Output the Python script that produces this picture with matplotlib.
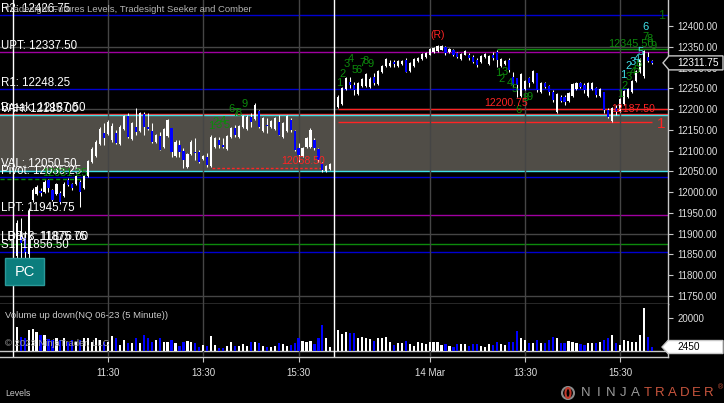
import numpy as np
import matplotlib
matplotlib.use("Agg")
import matplotlib.pyplot as plt
from matplotlib.patches import Polygon, Rectangle, Ellipse

plt.rcParams['font.family'] = ['Liberation Sans', 'DejaVu Sans']

# ---- 5 minute bars, day 1 (13 Mar) ----
o1 = [11845, 11892, 11889, 11850, 11980, 11995, 12003, 12000, 12029, 12005,
      11995, 11998, 11990, 12029, 12020, 12019, 12024, 12010, 12038, 12072,
      12088, 12116, 12143, 12140, 12125, 12142,
      12116, 12152, 12183, 12128, 12157, 12147, 12188, 12157, 12147, 12120,
      12135, 12108, 12135, 12154, 12087, 12114, 12099, 12060, 12092, 12097,
      12097, 12079, 12085, 12063, 12108, 12126, 12114, 12104,
      12132, 12155, 12132, 12157, 12152, 12181, 12176, 12196, 12147, 12163,
      12157, 12152, 12169, 12133, 12147, 12174, 12148, 12106, 12087, 12108,
      12110, 12126, 12104, 12070, 12050, 12055]
h1 = [11933, 11937, 11905, 11962, 12010, 12017, 12010, 12029, 12032, 12008,
      12022, 12002, 12024, 12034, 12022, 12041, 12030, 12041, 12077, 12109,
      12126, 12157, 12166, 12174, 12166, 12150,
      12162, 12186, 12191, 12169, 12203, 12193, 12193, 12191, 12166, 12140,
      12145, 12155, 12176, 12155, 12126, 12126, 12106, 12094, 12126, 12130,
      12101, 12090, 12094, 12138, 12133, 12133, 12130, 12138,
      12157, 12162, 12162, 12186, 12186, 12191, 12215, 12198, 12181, 12179,
      12174, 12181, 12186, 12169, 12186, 12179, 12150, 12118, 12109, 12133,
      12154, 12130, 12106, 12072, 12065, 12070]
l1 = [11830, 11828, 11830, 11835, 11976, 11993, 11990, 11998, 12000, 11978,
      11993, 11972, 11988, 12014, 12005, 12017, 11964, 12008, 12036, 12070,
      12085, 12114, 12114, 12138, 12121, 12116,
      12114, 12150, 12130, 12126, 12138, 12145, 12138, 12150, 12118, 12118,
      12101, 12106, 12133, 12085, 12085, 12085, 12058, 12058, 12090, 12077,
      12070, 12077, 12060, 12060, 12106, 12106, 12106, 12102,
      12130, 12133, 12130, 12155, 12150, 12157, 12174, 12154, 12145, 12142,
      12155, 12150, 12138, 12130, 12145, 12145, 12099, 12072, 12085, 12106,
      12106, 12101, 12072, 12048, 12048, 12053]
c1 = [11925, 11877, 11856, 11955, 12005, 12012, 11998, 12025, 12010, 11981,
      12019, 11976, 12020, 12017, 12010, 12038, 12000, 12038, 12074, 12105,
      12122, 12152, 12130, 12170, 12160, 12118,
      12158, 12183, 12133, 12166, 12145, 12190, 12157, 12152, 12121, 12138,
      12102, 12152, 12173, 12097, 12122, 12097, 12077, 12091, 12122, 12094,
      12073, 12088, 12065, 12134, 12130, 12114, 12110, 12135,
      12154, 12138, 12159, 12183, 12182, 12169, 12210, 12157, 12178, 12160,
      12171, 12178, 12138, 12166, 12183, 12150, 12102, 12089, 12106, 12130,
      12150, 12106, 12077, 12053, 12063, 12068]

# ---- day 2 (14 Mar) ----
o2 = [12205, 12212, 12248, 12266, 12258, 12236, 12255, 12255, 12253, 12277,
      12260, 12289, 12304, 12304, 12313, 12304, 12308, 12318, 12292, 12304,
      12316, 12320, 12325, 12332, 12337, 12340, 12344,
      12350, 12337, 12343, 12335, 12320, 12332, 12331, 12326, 12318, 12313,
      12325, 12309, 12331, 12338, 12304, 12308, 12318, 12278, 12275, 12232,
      12248, 12275, 12265, 12287, 12241, 12263, 12256,
      12241, 12193, 12229, 12229, 12219, 12231, 12248, 12263, 12258, 12231,
      12248, 12251, 12231, 12241, 12198, 12172, 12203, 12195, 12212, 12229,
      12241, 12267, 12289, 12280, 12326, 12316]
h2 = [12234, 12253, 12277, 12277, 12266, 12266, 12275, 12287, 12277, 12287,
      12294, 12306, 12323, 12318, 12318, 12318, 12318, 12323, 12314, 12323,
      12326, 12335, 12338, 12348, 12350, 12355, 12355,
      12352, 12348, 12345, 12338, 12335, 12343, 12335, 12331, 12323, 12331,
      12335, 12331, 12338, 12343, 12323, 12318, 12323, 12290, 12275, 12287,
      12270, 12278, 12294, 12287, 12266, 12266, 12258,
      12246, 12239, 12234, 12234, 12241, 12263, 12266, 12266, 12263, 12266,
      12266, 12253, 12251, 12241, 12203, 12205, 12210, 12227, 12246, 12251,
      12270, 12294, 12323, 12343, 12338, 12318]
l2 = [12202, 12210, 12246, 12251, 12234, 12234, 12253, 12253, 12251, 12258,
      12258, 12287, 12302, 12302, 12302, 12302, 12306, 12290, 12290, 12302,
      12314, 12318, 12323, 12330, 12335, 12338, 12342,
      12330, 12335, 12328, 12323, 12318, 12330, 12318, 12311, 12302, 12311,
      12323, 12306, 12318, 12302, 12302, 12306, 12290, 12253, 12229, 12229,
      12246, 12253, 12263, 12241, 12239, 12251, 12234,
      12217, 12190, 12217, 12210, 12217, 12229, 12246, 12251, 12239, 12229,
      12246, 12229, 12229, 12190, 12178, 12169, 12186, 12193, 12210, 12227,
      12239, 12265, 12287, 12275, 12314, 12310]
c2 = [12230, 12250, 12275, 12258, 12246, 12263, 12272, 12284, 12274, 12263,
      12291, 12304, 12320, 12312, 12309, 12316, 12316, 12290, 12311, 12320,
      12324, 12333, 12336, 12345, 12348, 12352, 12352,
      12335, 12345, 12331, 12326, 12333, 12340, 12324, 12314, 12306, 12328,
      12333, 12328, 12324, 12318, 12320, 12316, 12295, 12258, 12258, 12284,
      12268, 12263, 12292, 12246, 12263, 12254, 12241,
      12222, 12236, 12220, 12217, 12239, 12260, 12263, 12254, 12246, 12263,
      12263, 12234, 12248, 12198, 12181, 12202, 12193, 12224, 12244, 12249,
      12268, 12292, 12320, 12340, 12316, 12311.75]

vol1 = [14700, 8700, 7900, 12700, 13300, 11300, 9700, 9700, 7300, 6700,
        7700, 6700, 7700, 5600, 6700, 5600, 6700, 7700, 7700, 5600,
        7700, 6700, 5600, 5600, 9100, 8100, 3600, 6700, 4600, 4600,
        8100, 4600, 9700, 8100, 5600, 6700, 7700, 5600, 5600, 6700,
        4600, 3200, 5600, 6000, 5600, 4600, 2600, 3600, 3200, 9400,
        3600, 1600, 1600, 3200, 5600, 3200, 3200, 4000, 3200, 5200,
        5200, 4600, 3200, 2600, 2600, 3200, 5000, 4000, 3200, 3600,
        4600, 8100, 6000, 5600, 6000, 4200, 8100, 15800, 7700, 2600]
vol2 = [12700, 10100, 11300, 10700, 10700, 7700,
        8700, 7700, 7300, 6300, 8100, 7700, 8700, 5600, 3600, 4600,
        4600, 6300, 4000, 3200, 5600, 4600, 4000, 5600, 5600, 5600,
        3600, 4000, 3200, 2600, 4000, 4200, 4200, 3200, 4000, 4200,
        3200, 2600, 4200, 3600, 5600, 4000, 3600, 5200, 5600, 12100,
        8100, 6700, 5000, 4600, 6700, 5000, 5000, 6700, 8700, 8100,
        4600, 5000, 6000, 5600, 4600, 4000, 3600, 4600, 4600, 4600,
        5600, 6700, 8100, 9700, 4600, 3600, 6700, 6000, 5600, 5600,
        9700, 26200, 8700, 2450]

day1_bars = np.arange(0, 80)
day2_bars = np.arange(81, 161)
session_breaks = [-1, 80]
# bar index of each time label (11:30 / 13:30 / 15:30 on both days)
time_ticks = [23, 47, 71, 104, 128, 152]
time_labels = ["11:30", "13:30", "15:30", "14 Mar", "13:30", "15:30"]
price_ticks = [11750, 11800, 11850, 11900, 11950, 12000, 12050, 12100,
               12150, 12200, 12250, 12300, 12350, 12400]
grid_prices = [11750, 11900, 12200, 12350]

BLUE = '#0000d2'
PURPLE = '#a000a0'
RED = '#ff2424'
CYAN = '#40e0e8'
GREEN = '#0c8a0c'
# name, value, colour
levels = [("R2: 12426.75", 12426.75, BLUE),
          ("UPT: 12337.50", 12337.50, PURPLE),
          ("R1: 12248.25", 12248.25, BLUE),
          ("Break: 12187.50", 12187.50, RED),
          ("VAH: 12185.00", 12185.00, CYAN),
          ("VAL: 12050.50", 12050.50, CYAN),
          ("Pivot: 12035.25", 12035.25, BLUE),
          ("LPT: 11945.75", 11945.75, PURPLE),
          ("LDBrk: 11875.75", 11875.75, GREEN),
          ("S1: 11856.50", 11856.50, BLUE)]
value_area = (12050.50, 12185.00)

# TD style counts: label, bar, price, colour
counts = [("1", 49, 12159, GREEN), ("2", 50, 12169, GREEN), ("3", 51, 12162, GREEN),
          ("4", 52, 12171, GREEN), ("5", 53, 12162, GREEN), ("6", 54.2, 12200, GREEN),
          ("7", 55.2, 12191, GREEN), ("8", 56, 12191, GREEN), ("9", 57.3, 12212, GREEN),
          ("1", 81.2, 12263, GREEN), ("2", 82.2, 12285, GREEN), ("3", 83.2, 12309, GREEN),
          ("4", 84.2, 12321, GREEN), ("5", 85, 12295, GREEN), ("6", 86, 12295, GREEN),
          ("7", 87, 12311, GREEN), ("8", 88, 12316, GREEN), ("9", 89.2, 12309, GREEN),
          ("1", 121.2, 12287, GREEN), ("2", 122.2, 12273, GREEN), ("3", 123, 12290, GREEN),
          ("4", 124.3, 12263, GREEN), ("5", 125.3, 12249, GREEN), ("6", 126.3, 12198, GREEN),
          ("8", 128.3, 12227, GREEN), ("9", 129.3, 12229, GREEN),
          ("1", 152, 12237, GREEN), ("2", 153.2, 12256, GREEN), ("3", 154.2, 12278, GREEN),
          ("4", 155.2, 12290, GREEN), ("5", 156.2, 12295, GREEN), ("6", 156.6, 12309, GREEN),
          ("7", 158.3, 12374, GREEN), ("8", 159.3, 12369, GREEN), ("9", 160.3, 12352, GREEN),
          ("1", 152.7, 12282, CYAN), ("2", 154, 12304, CYAN), ("3", 155.2, 12314, CYAN),
          ("4", 156.2, 12321, CYAN), ("5", 157.2, 12338, CYAN), ("6", 158.3, 12398, CYAN)]

W, H = 724, 403
fig = plt.figure(figsize=(W / 100, H / 100), dpi=100, facecolor='black')
ax = fig.add_axes([0, 99 / H, 668 / W, 304 / H], facecolor='black')
axv = fig.add_axes([0, 46 / H, 668 / W, 53 / H], facecolor='black', sharex=ax)

xmin, xmax = -4.21, 164.05
ax.set_xlim(xmin, xmax)
ax.set_ylim(11730, 12463.5)
axv.set_ylim(-3600, 28500)

AXC = '#c8c8c8'
TXC = '#e0e0e0'
for a in (ax, axv):
    for s in ('top', 'left'):
        a.spines[s].set_visible(False)
    for s in ('right', 'bottom'):
        a.spines[s].set_color(AXC)
        a.spines[s].set_linewidth(1)
    a.set_xticks(time_ticks)
    a.grid(axis='x', color='#454545', linewidth=1, zorder=0.6)
    a.set_axisbelow(False)

axv.set_xticklabels(time_labels)
ax.tick_params(axis='x', bottom=False, labelbottom=False)
axv.tick_params(axis='x', colors=AXC, labelcolor=TXC, labelsize=7, length=3.6, pad=4.5)

ax.yaxis.tick_right()
ax.set_yticks(price_ticks)
ax.set_yticklabels(["%.2f" % p for p in price_ticks])
ax.tick_params(axis='y', colors=AXC, labelcolor=TXC, labelsize=7, length=3.6, pad=3)
axv.yaxis.tick_right()
axv.set_yticks([20000])
axv.set_yticklabels(["20000"])
axv.tick_params(axis='y', colors=AXC, labelcolor=TXC, labelsize=7, length=3.6, pad=3)

# value area box and grid
ax.axhspan(value_area[0], value_area[1], color='#504d47', zorder=0.5, lw=0)
for g in grid_prices:
    ax.axhline(g, color='#454545', lw=1, zorder=0.6)
for b in session_breaks:
    ax.axvline(b, color='white', lw=1, zorder=2)
    axv.axvline(b, color='white', lw=1, zorder=2)
axv.axhline(0, color=AXC, lw=1, zorder=1)

# level lines + left labels
for name, val, col in levels:
    ax.axhline(val, color=col, lw=1, zorder=1)
for name, val, col in levels:
    ax.annotate(name, xy=(0, val), xycoords=ax.get_yaxis_transform(),
                xytext=(1, 0.5), textcoords='offset points', va='bottom', ha='left',
                color='white', fontsize=8.3, zorder=6)
ax.annotate("LBrk 3: 11876.00", xy=(0, 11875.75), xycoords=ax.get_yaxis_transform(),
            xytext=(1, 0.5), textcoords='offset points', va='bottom', ha='left',
            color='white', fontsize=8.3, zorder=6)

# extra drawn levels
ax.hlines(12200.75, 81, xmax, color=RED, lw=1, zorder=1.5)
ax.hlines(12168.50, 81, 160, color=RED, lw=1, zorder=1.5)
ax.hlines(12345.50, 121, xmax, color=GREEN, lw=1, zorder=1.5)
ax.hlines(12058.50, 49.2, 76.9, color=RED, lw=1, linestyles=(0, (2, 1.5)), zorder=1.5)
ax.hlines(12031.25, xmin, 17.2, color=GREEN, lw=1, linestyles=(0, (3, 2)), zorder=1.5)
ax.text(123.2, 12215, "12200.75", color=RED, fontsize=7.6, ha='center', va='center', zorder=6)
ax.text(155.2, 12200, "12187.50", color=RED, fontsize=7.6, ha='center', va='center', zorder=6)
ax.text(154.7, 12357, "12345.50", color=GREEN, fontsize=7.8, ha='center', va='center', zorder=6)
ax.text(72.1, 12075, "12058.50", color=RED, fontsize=7.6, ha='center', va='center', zorder=6)
ax.text(12.2, 12046, "12031.25", color=GREEN, fontsize=7.8, ha='center', va='center', zorder=6)
ax.text(162.3, 12164, "1", color=RED, fontsize=11, ha='center', va='center', zorder=6)
ax.text(162.5, 12425, "1", color='#0a6a0a', fontsize=9, ha='center', va='center', zorder=6)
ax.text(105.9, 12379, "(R)", color=RED, fontsize=7.5, ha='center', va='center', zorder=6)
for lab, b, p, col in counts:
    ax.text(b, p, lab, color=col, fontsize=8, ha='center', va='center', zorder=5)

# candles
bars = np.concatenate([day1_bars, day2_bars])
op = np.array(o1 + o2, dtype=float)
hi = np.array(h1 + h2, dtype=float)
lo = np.array(l1 + l2, dtype=float)
cl = np.array(c1 + c2, dtype=float)
up = cl >= op
body_col = np.where(up, 'white', '#0000ff')
ax.vlines(bars, lo, hi, color='white', lw=0.75, zorder=3)
body_lo = np.minimum(op, cl)
body_h = np.maximum(np.abs(cl - op), 2.5)
ax.bar(bars, body_h, bottom=body_lo, width=0.55, color=body_col, lw=0, zorder=3.5)

# volume
vol = np.array(vol1 + vol2, dtype=float)
axv.bar(bars, vol, width=0.55, color=body_col, lw=0, zorder=3)


def fx(px):
    return px / W


def fy(py):
    return 1 - py / H


fig.text(fx(5), fy(10), "Tradesight Futures Levels, Tradesight Seeker and Comber",
         color='#b4b4b4', fontsize=6.8, va='center', ha='left', zorder=1)
fig.text(fx(5), fy(316), "Volume up down(NQ 06-23 (5 Minute))", color='#c8c8c8',
         fontsize=6.8, va='center', ha='left')
fig.text(fx(5), fy(343), "\u00a9 2023 NinjaTrader, LLC", color='#a0a0a0',
         fontsize=6.8, va='center', ha='left', zorder=0)
fig.text(fx(5), fy(393), "Levels", color='#c8c8c8', fontsize=6.3, va='center', ha='left')

# PC button
fig.add_artist(Rectangle((fx(5), fy(285)), 39 / W, 27 / H, transform=fig.transFigure,
                         fc='#0b7d7d', ec='#2a9a9a', lw=1, zorder=7))
fig.text(fx(24.5), fy(271.5), "PC", color='white', fontsize=10.5, ha='center',
         va='center', zorder=8)

# last price / last volume markers
fig.canvas.draw()
yc = H - ax.transData.transform((0, cl[-1]))[1]
pts = [(663, yc), (669, yc - 7), (723, yc - 7), (723, yc + 7), (669, yc + 7)]
fig.add_artist(Polygon([(fx(x), fy(y)) for x, y in pts], closed=True,
                       transform=fig.transFigure, fc='black', ec=AXC, lw=1, zorder=7))
fig.text(fx(677), fy(yc), "%.2f" % cl[-1], color='white', fontsize=7.3,
         ha='left', va='center', zorder=8)
yv = H - axv.transData.transform((0, vol[-1]))[1]
pts = [(662, yv), (668, yv - 6.5), (723, yv - 6.5), (723, yv + 6.5), (668, yv + 6.5)]
fig.add_artist(Polygon([(fx(x), fy(y)) for x, y in pts], closed=True,
                       transform=fig.transFigure, fc='white', ec=AXC, lw=1, zorder=7))
fig.text(fx(677), fy(yv), "%d" % vol[-1], color='black', fontsize=7.3,
         ha='left', va='center', zorder=8)

# NinjaTrader logo
fig.add_artist(Ellipse((fx(568), fy(393)), 12 / W, 12 / H, transform=fig.transFigure,
                       fc='none', ec='#8a8a8a', lw=1.5))
fig.add_artist(Ellipse((fx(568), fy(393)), 5 / W, 10 / H, transform=fig.transFigure,
                       fc='none', ec='#c0392b', lw=1.5))
for i, ch in enumerate("NINJATRADER"):
    fig.text(fx(586 + 12.3 * i), fy(393), ch, color='#9a9a9a' if i < 5 else '#c8553d',
             fontsize=9.5, ha='center', va='center')
fig.text(fx(721), fy(388), "\u00ae", color='#c8553d', fontsize=5, ha='center', va='center')

fig.savefig("out.png", dpi=100, facecolor='black')
